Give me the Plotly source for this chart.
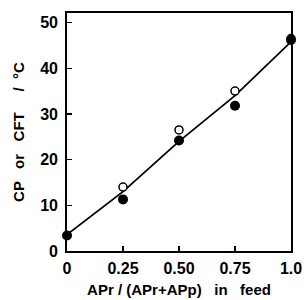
import plotly.graph_objects as go

x_vals = [0, 0.25, 0.5, 0.75, 1.0]
line_y = [3.6, 13.0, 24.0, 34.0, 45.8]
open_x = [0.25, 0.5, 0.75, 1.0]
open_y = [14.0, 26.5, 35.0, 46.5]
filled_x = [0, 0.25, 0.5, 0.75, 1.0]
filled_y = [3.4, 11.3, 24.2, 31.8, 46.2]
x_tickvals = [0, 0.25, 0.5, 0.75, 1.0]
x_ticktext = ["0", "0.25", "0.50", "0.75", "1.0"]
y_tickvals = [0, 10, 20, 30, 40, 50]

fig = go.Figure()
fig.add_trace(go.Scatter(x=x_vals, y=line_y, mode="lines",
                         line=dict(color="black", width=1.8), showlegend=False,
                         cliponaxis=False))
fig.add_trace(go.Scatter(x=open_x, y=open_y, mode="markers",
                         marker=dict(symbol="circle", size=8, color="white",
                                     line=dict(color="black", width=1.5)),
                         showlegend=False, cliponaxis=False))
fig.add_trace(go.Scatter(x=filled_x, y=filled_y, mode="markers",
                         marker=dict(symbol="circle", size=10, color="black"),
                         showlegend=False, cliponaxis=False))

tfont = dict(family="Liberation Sans, Arial, sans-serif", size=16, color="black", weight="bold")
ttl_font = dict(family="Liberation Sans, Arial, sans-serif", size=15, color="black", weight="bold")

fig.update_layout(
    width=306, height=300,
    margin=dict(l=67, r=15, t=13, b=49),
    paper_bgcolor="white", plot_bgcolor="white",
    font=tfont,
    xaxis=dict(range=[0, 1.0], tickvals=x_tickvals, ticktext=x_ticktext,
               ticks="inside", ticklen=5, tickwidth=1.5, tickcolor="black",
               showline=True, linecolor="black", linewidth=1.8, mirror=True,
               showgrid=False, zeroline=False, tickfont=tfont,
               ticklabelstandoff=2, automargin=False,
               title=dict(text="APr / (APr+APp)   in   feed", font=ttl_font, standoff=8)),
    yaxis=dict(range=[0, 52.1], tickvals=y_tickvals,
               ticks="inside", ticklen=5, tickwidth=1.5, tickcolor="black",
               showline=True, linecolor="black", linewidth=1.8, mirror=True,
               showgrid=False, zeroline=False, tickfont=tfont,
               ticklabelstandoff=4, automargin=False,
               title=dict(text="CP   or   CFT     /  °C", font=ttl_font, standoff=12)),
)

fig.write_html("out.html", config={"displayModeBar": False, "staticPlot": True},
               post_script="document.body.style.margin='0';document.body.style.overflow='hidden';")
